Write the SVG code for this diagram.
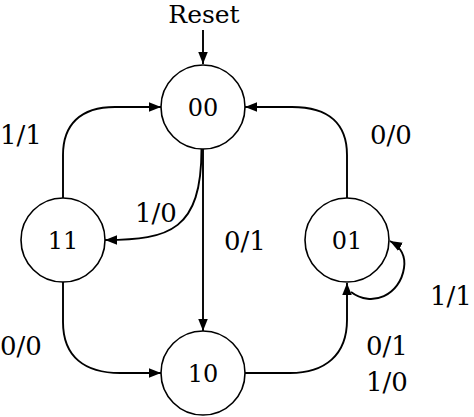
<svg xmlns="http://www.w3.org/2000/svg" width="474" height="417" viewBox="0 0 474 417">
<defs>
<marker id="arr" markerUnits="userSpaceOnUse" markerWidth="13" markerHeight="10" refX="12" refY="4.75" orient="auto">
<path d="M0,0 L12,4.75 L0,9.5 z" fill="#000"/>
</marker>
<style>
.node circle{fill:#fff;stroke:#000;stroke-width:1.6}
.node text{font-family:"DejaVu Serif","Liberation Serif",serif;font-size:24px;text-anchor:middle;fill:#000}
.edges path{fill:none;stroke:#000;stroke-width:1.9;marker-end:url(#arr)}
.lbl{font-family:"DejaVu Serif","Liberation Serif",serif;font-size:26px;fill:#000}
</style>
</defs>
<rect width="474" height="417" fill="#fff"/>
<g class="edges">
<path d="M203,30 V64"/>
<path d="M203,149 V331"/>
<path d="M201.5,149 C201.5,230 170,240 105,240"/>
<path d="M63,198 L63,155 C63,125 80,107 115,107 L161,107"/>
<path d="M347,198 L347,155 C347,125 330,107 292,107 L245,107"/>
<path d="M63,282 L63,322 C63,357 85,373 120,373 L161,373"/>
<path d="M245,373 L290,373 C325,373 347,355 347,320 L347,283"/>
<path d="M351,292 C372,308 400,295 404,268 C406,255 399,246 390,241"/>
</g>
<g id="node-00" class="node"><circle cx="203" cy="107" r="42"/><text x="203" y="115.5">00</text></g>
<g id="node-11" class="node"><circle cx="63" cy="240" r="42"/><text x="63" y="249">11</text></g>
<g id="node-01" class="node"><circle cx="347" cy="240" r="42"/><text x="347" y="249">01</text></g>
<g id="node-10" class="node"><circle cx="203" cy="373" r="42"/><text x="203" y="382">10</text></g>
<g id="labels">
<text class="lbl" x="204" y="22.5" text-anchor="middle" style="font-size:25px">Reset</text>
<text class="lbl" x="0" y="144">1/1</text>
<text class="lbl" x="135" y="221.5">1/0</text>
<text class="lbl" x="224" y="250">0/1</text>
<text class="lbl" x="370" y="144">0/0</text>
<text class="lbl" x="430" y="305">1/1</text>
<text class="lbl" x="366" y="355">0/1</text>
<text class="lbl" x="366" y="391">1/0</text>
<text class="lbl" x="0" y="355">0/0</text>
</g>
</svg>
